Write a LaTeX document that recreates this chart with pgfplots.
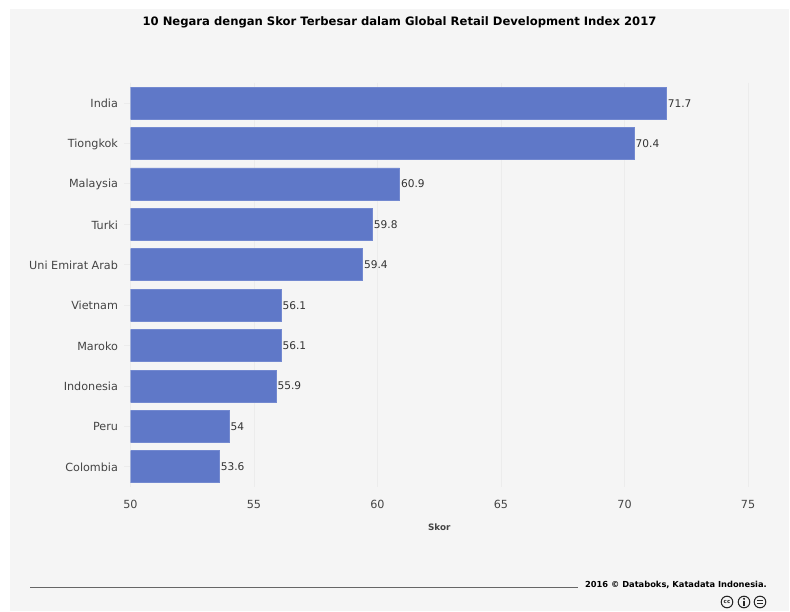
\documentclass[border=0pt]{standalone}
\usepackage{pgfplots}
\pgfplotsset{compat=1.18}
\usepackage{fontspec}
\setmainfont{DejaVu Sans}
\definecolor{panel}{HTML}{F5F5F5}
\definecolor{barfill}{HTML}{5F78C8}
\definecolor{baredge}{HTML}{7389D0}
\definecolor{gridc}{HTML}{ECECEC}
\definecolor{labelc}{HTML}{444444}
\begin{document}
\begin{tikzpicture}[x=1pt,y=1pt]
\useasboundingbox (0,0) rectangle (790,611);
\fill[white] (0,0) rectangle (790,611);
\fill[panel] (10,0) rectangle (789,602);
\node[font=\fontsize{11.6}{13}\bfseries, text=black] at (399.5,589) {10 Negara dengan Skor Terbesar dalam Global Retail Development Index 2017};
\begin{axis}[
  at={(130.5pt,124pt)}, anchor=south west,
  scale only axis, width=617.5pt, height=404pt,
  xbar, bar width=32pt, bar shift=0pt,
  xmin=50, xmax=75, ymin=-0.5, ymax=9.5, y dir=reverse,
  xtick={50,55,60,65,70,75},
  ytick={0,...,9},
  yticklabels={India,Tiongkok,Malaysia,Turki,Uni Emirat Arab,Vietnam,Maroko,Indonesia,Peru,Colombia},
  axis line style={draw=none},
  xmajorgrids, grid style={gridc, line width=1pt},
  xtick style={draw=none},
  ytick style={draw=gridc, line width=1pt},
  ytick pos=left, tickwidth=6pt,
  ticklabel style={font=\fontsize{11.2}{13}\selectfont, text=labelc},
  /pgf/number format/assume math mode=true,
  x tick label style={yshift=-10pt},
  y tick label style={xshift=-3pt, yshift=-0.5pt},
  xlabel={Skor},
  xlabel style={font=\fontsize{8.8}{10}\bfseries, text=labelc, yshift=-8pt},
  nodes near coords,
  nodes near coords align={horizontal},
  every node near coord/.append style={font=\fontsize{10.6}{12}\selectfont, text=black!80, inner xsep=1pt},
]
\draw[gridc, line width=1pt] (axis cs:50,-0.5) -- (axis cs:50,9.5);
\addplot[fill=barfill, draw=baredge, line width=0.7pt] coordinates {
  (71.7,0) (70.4,1) (60.9,2) (59.8,3) (59.4,4)
  (56.1,5) (56.1,6) (55.9,7) (54,8) (53.6,9)
};
\end{axis}
\draw[gray!80!black, line width=0.5pt] (30,24) -- (578,24);
\node[anchor=east, font=\fontsize{8.3}{10}\bfseries, text=black, inner sep=0pt] at (767,26) {2016 © Databoks, Katadata Indonesia.};
\begin{scope}[line width=1pt, black!85]
  \draw (727,9) circle (5.8);
  \node[font=\fontsize{5.5}{6}\bfseries, inner sep=0pt] at (727,9) {cc};
  \draw (744,9) circle (5.8);
  \fill (744,12.2) circle (1.2);
  \fill (742.6,5) rectangle (745.4,10.4);
  \draw (760,9) circle (5.8);
  \fill (757,9.8) rectangle (763,11);
  \fill (757,7) rectangle (763,8.2);
\end{scope}
\end{tikzpicture}
\end{document}
